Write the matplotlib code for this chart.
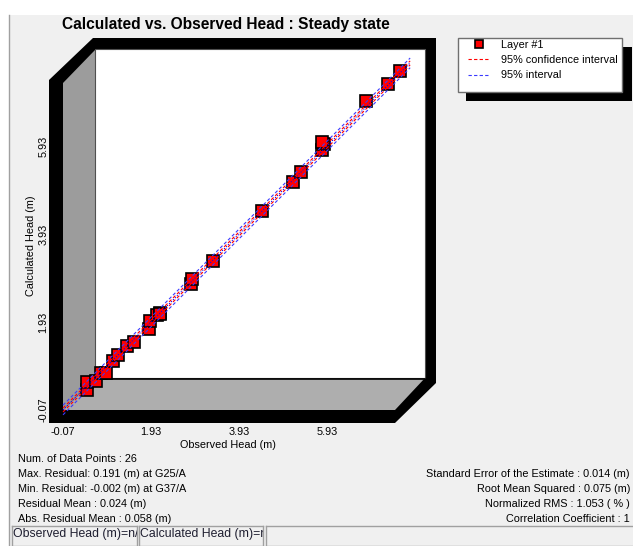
import matplotlib
matplotlib.use('Agg')
import matplotlib.pyplot as plt
from matplotlib.patches import Polygon, Rectangle

plt.rcParams['font.family'] = ['Liberation Sans', 'DejaVu Sans']

# ---------------- data ----------------
observed = [0.47, 0.47, 0.68, 0.79, 0.91, 1.07, 1.18, 1.38, 1.54, 1.88, 1.91,
            2.07, 2.13, 2.13, 2.84, 2.86, 3.34, 4.45, 5.16, 5.34, 5.82, 5.86,
            5.82, 6.82, 7.32, 7.59]
calculated = [0.39, 0.57, 0.59, 0.77, 0.77, 1.04, 1.18, 1.38, 1.48, 1.77, 1.95,
              2.09, 2.13, 2.11, 2.79, 2.91, 3.32, 4.45, 5.11, 5.34, 5.84, 5.98,
              6.02, 6.95, 7.34, 7.63]
fit_x = [-0.07, 7.82]
fit_y = [-0.07, 7.82]
conf_upper = [-0.025, 7.865]
conf_lower = [-0.115, 7.775]
pred_upper = [0.04, 7.93]
pred_lower = [-0.18, 7.71]
tick_values = [-0.07, 1.93, 3.93, 5.93]
tick_labels = ['-0.07', '1.93', '3.93', '5.93']
x_limits = [-0.07, 7.43]
y_limits = [-0.07, 7.385]
legend_labels = ['Layer #1', '95% confidence interval', '95% interval']
title = 'Calculated vs. Observed Head : Steady state'
x_title = 'Observed Head (m)'
y_title = 'Calculated Head (m)'
stats_left = ['Num. of Data Points : 26',
              'Max. Residual: 0.191 (m) at G25/A',
              'Min. Residual: -0.002 (m) at G37/A',
              'Residual Mean : 0.024 (m)',
              'Abs. Residual Mean : 0.058 (m)']
stats_right = ['Standard Error of the Estimate : 0.014 (m)',
               'Root Mean Squared : 0.075 (m)',
               'Normalized RMS : 1.053 ( % )',
               'Correlation Coefficient : 1']
status_cells = ['Observed Head (m)=n/a', 'Calculated Head (m)=n/a', '']

# ---------------- figure ----------------
W, H = 633, 546
FS = 7.8
fig = plt.figure(figsize=(W / 100, H / 100), dpi=100, facecolor='white')
bg = fig.add_axes([0, 0, 1, 1])
bg.set_xlim(0, W)
bg.set_ylim(H, 0)
bg.axis('off')

# panel
bg.add_patch(Rectangle((8.5, 14.5), W, H, facecolor='#f0f0f0', edgecolor='none'))
bg.plot([8.5, 8.5], [14.5, H], color='#a0a0a0', lw=1)

# 3D frame
bg.add_patch(Polygon([(49, 80), (93, 38), (436, 38), (436, 383), (395, 423), (49, 423)],
                     closed=True, facecolor='black', edgecolor='none'))
bg.add_patch(Polygon([(63, 83), (95, 50), (95, 378), (63, 410)], closed=True,
                     facecolor='#9c9c9c', edgecolor='none'))
bg.add_patch(Polygon([(63, 410), (95, 378), (425, 378), (395, 410)], closed=True,
                     facecolor='#aeaeae', edgecolor='none'))
bg.add_patch(Rectangle((95, 49), 330, 329, facecolor='white', edgecolor='#505050', lw=0.8))
bg.plot([95, 425], [378.5, 378.5], color='black', lw=1.2)

# legend box + shadow
bg.add_patch(Rectangle((466, 47), 166, 54, facecolor='black', edgecolor='none'))
bg.add_patch(Rectangle((458, 38), 164, 54, facecolor='white', edgecolor='#707070', lw=1))

# ---------------- data axes (front plane) ----------------
ax = fig.add_axes([63 / W, (H - 410) / H, 330 / W, 328 / H])
ax.patch.set_alpha(0)
for s in ax.spines.values():
    s.set_visible(False)
ax.set_xlim(*x_limits)
ax.set_ylim(*y_limits)

pts, = ax.plot(observed, calculated, ls='none', marker='s', ms=8.4, mfc='#ff0000',
               mec='black', mew=1.2, clip_on=False, zorder=3)
ax.plot(fit_x, fit_y, color='#0000ff', ls=(0, (1, 1.5)), lw=0.8, clip_on=False, zorder=4)
conf_line, = ax.plot(fit_x, conf_upper, color='#ff0000', ls=(0, (3, 2)), lw=0.8,
                     clip_on=False, zorder=4)
ax.plot(fit_x, conf_lower, color='#ff0000', ls=(0, (3, 2)), lw=0.8, clip_on=False, zorder=4)
pred_line, = ax.plot(fit_x, pred_upper, color='#3a3aff', ls=(0, (3, 2)), lw=0.8,
                     clip_on=False, zorder=4)
ax.plot(fit_x, pred_lower, color='#3a3aff', ls=(0, (3, 2)), lw=0.8, clip_on=False, zorder=4)

ax.set_xticks(tick_values, tick_labels)
ax.set_yticks(tick_values, tick_labels)
ax.tick_params(axis='x', length=0, labelsize=FS, pad=12)
ax.tick_params(axis='y', length=0, labelsize=FS, pad=10.5)
for lab in ax.get_yticklabels():
    lab.set_rotation(90)
    lab.set_va('center')
ax.set_xlabel(x_title, fontsize=FS, labelpad=2.5)
ax.set_ylabel(y_title, fontsize=FS, labelpad=2)

leg = ax.legend([pts, conf_line, pred_line], legend_labels, loc='upper left',
                bbox_to_anchor=(468 / W, 1 - 39.5 / H), bbox_transform=fig.transFigure,
                frameon=False, borderpad=0, borderaxespad=0, handlelength=1.95,
                handletextpad=1.1, labelspacing=0.5, fontsize=FS, markerscale=0.72)

# title
bg.text(226, 24, title, fontsize=11.2, fontweight='bold', ha='center', va='center')

# stats
left_y = [459, 474, 489, 504, 519]
for s, y in zip(stats_left, left_y):
    bg.text(18, y, s, fontsize=FS, ha='left', va='center')
for s, y in zip(stats_right, left_y[1:]):
    bg.text(630, y, s, fontsize=FS, ha='right', va='center')

# status bar
cells = [(12, 125), (139, 124), (266, 380)]
for (x0, w), txt in zip(cells, status_cells):
    cax = fig.add_axes([x0 / W, 0, w / W, (H - 526) / H])
    cax.set_xlim(0, w)
    cax.set_ylim(H - 526, 0)
    cax.set_xticks([])
    cax.set_yticks([])
    cax.set_facecolor('#f0f0f0')
    for s in cax.spines.values():
        s.set_color('#a0a0a0')
        s.set_linewidth(1)
    cax.text(1, 8, txt, fontsize=8.8, color='#1e1e30', ha='left', va='center', clip_on=True)

fig.savefig('out.png', dpi=100, facecolor=fig.get_facecolor())
